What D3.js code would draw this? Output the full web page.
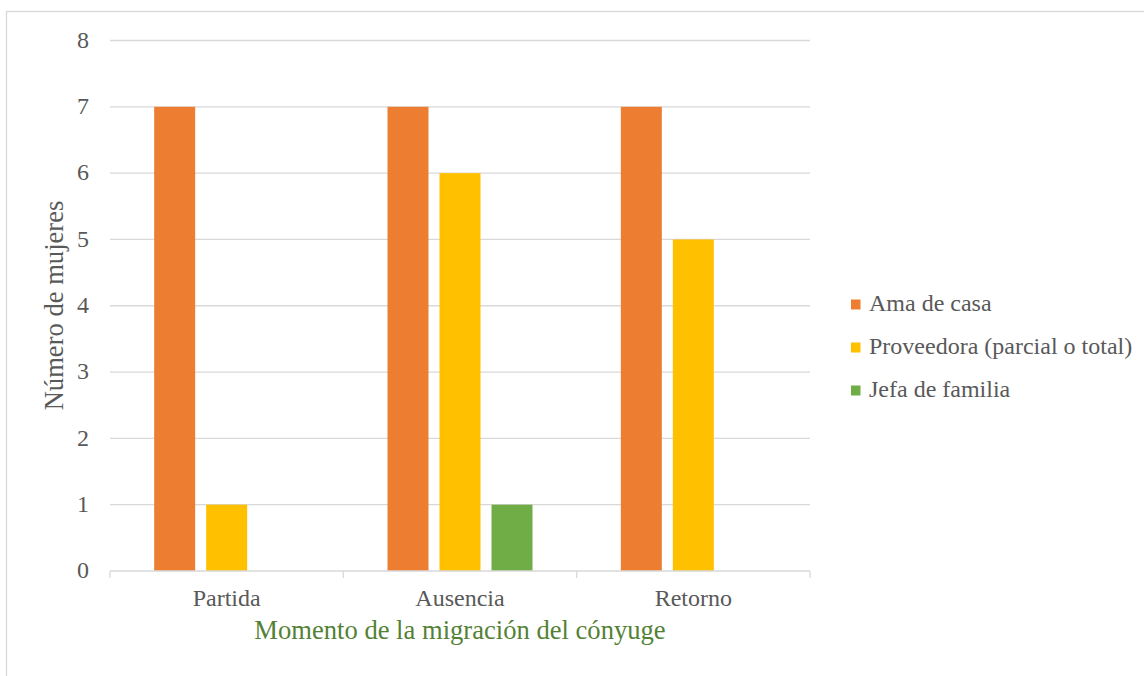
<!DOCTYPE html>
<html><head><meta charset="utf-8">
<script src="https://cdn.jsdelivr.net/npm/d3@7"></script>
<style>body{margin:0;background:#fff}svg{display:block}</style>
</head><body>
<svg id="c" width="1144" height="676"></svg>
<script>
const categories = ["Partida", "Ausencia", "Retorno"];
const seriesNames = ["Ama de casa", "Proveedora (parcial o total)", "Jefa de familia"];
const amaDeCasa = [7, 7, 7];
const proveedora = [1, 6, 5];
const jefaDeFamilia = [0, 1, 0];
const yTicks = [0, 1, 2, 3, 4, 5, 6, 7, 8];
const colors = ["#ED7D31", "#FFC000", "#70AD47"];

(function () {
const seriesValues = [amaDeCasa, proveedora, jefaDeFamilia];
const svg = d3.select("#c");
const FF = '"Liberation Serif"';
const textCol = "#595959";

// chart border
svg.append("rect").attr("x", 6.5).attr("y", 11.5).attr("width", 1150).attr("height", 700)
  .attr("fill", "none").attr("stroke", "#d9d9d9").attr("stroke-width", 1.3);

const pLeft = 110, pRight = 810, pTop = 40.5, pBottom = 571;
const x = d3.scaleBand().domain(categories).range([pLeft, pRight]);
const y = d3.scaleLinear().domain([0, 8]).range([pBottom, pTop]);

// gridlines
svg.append("g").selectAll("line").data(yTicks.filter(d => d > 0)).join("line")
  .attr("x1", pLeft).attr("x2", pRight)
  .attr("y1", d => y(d)).attr("y2", d => y(d))
  .attr("stroke", "#d9d9d9").attr("stroke-width", 1.3);

// y tick labels
svg.append("g").selectAll("text").data(yTicks).join("text")
  .attr("x", 89).attr("y", d => y(d)).attr("dy", "0.3em")
  .attr("text-anchor", "end").style("font-family", FF).style("font-size", "24px")
  .attr("fill", textCol).text(d => d);

// bars
const barW = 41, gap = 11;
const groupW = barW * 3 + gap * 2;
seriesValues.forEach((vals, si) => {
  svg.append("g").selectAll("rect").data(vals.map((v, i) => ({v, c: categories[i]})).filter(d => d.v > 0)).join("rect")
    .attr("x", d => x(d.c) + (x.bandwidth() - groupW) / 2 + si * (barW + gap))
    .attr("y", d => y(d.v))
    .attr("width", barW)
    .attr("height", d => y(0) - y(d.v))
    .attr("fill", colors[si]);
});

// x axis line & ticks
svg.append("line").attr("x1", pLeft).attr("x2", pRight).attr("y1", pBottom).attr("y2", pBottom)
  .attr("stroke", "#d9d9d9").attr("stroke-width", 1.3);
const bounds = categories.map(c => x(c)).concat([pRight]);
svg.append("g").selectAll("line").data(bounds).join("line")
  .attr("x1", d => d).attr("x2", d => d).attr("y1", pBottom).attr("y2", pBottom + 7)
  .attr("stroke", "#d9d9d9").attr("stroke-width", 1.3);

// x tick labels
svg.append("g").selectAll("text").data(categories).join("text")
  .attr("x", d => x(d) + x.bandwidth() / 2).attr("y", 606)
  .attr("text-anchor", "middle").style("font-family", FF).style("font-size", "24px")
  .attr("fill", textCol).text(d => d);

// axis titles
svg.append("text").attr("x", 460).attr("y", 639).attr("text-anchor", "middle")
  .style("font-family", FF).style("font-size", "26.6px").attr("fill", "#538135")
  .text("Momento de la migración del cónyuge");
svg.append("text").attr("transform", "translate(63,305.5) rotate(-90)")
  .attr("text-anchor", "middle").style("font-family", FF).style("font-size", "26.6px")
  .attr("fill", textCol).text("Número de mujeres");

// legend
const lg = svg.append("g").selectAll("g").data(seriesNames).join("g")
  .attr("transform", (d, i) => `translate(851,${310.5 + i * 43})`);
lg.append("rect").attr("x", 0).attr("y", -11).attr("width", 9.5).attr("height", 10)
  .attr("fill", (d, i) => colors[i]);
lg.append("text").attr("x", 18).attr("y", 0)
  .style("font-family", FF).style("font-size", "24px").attr("fill", textCol).text(d => d);
})();
</script>
</body></html>
